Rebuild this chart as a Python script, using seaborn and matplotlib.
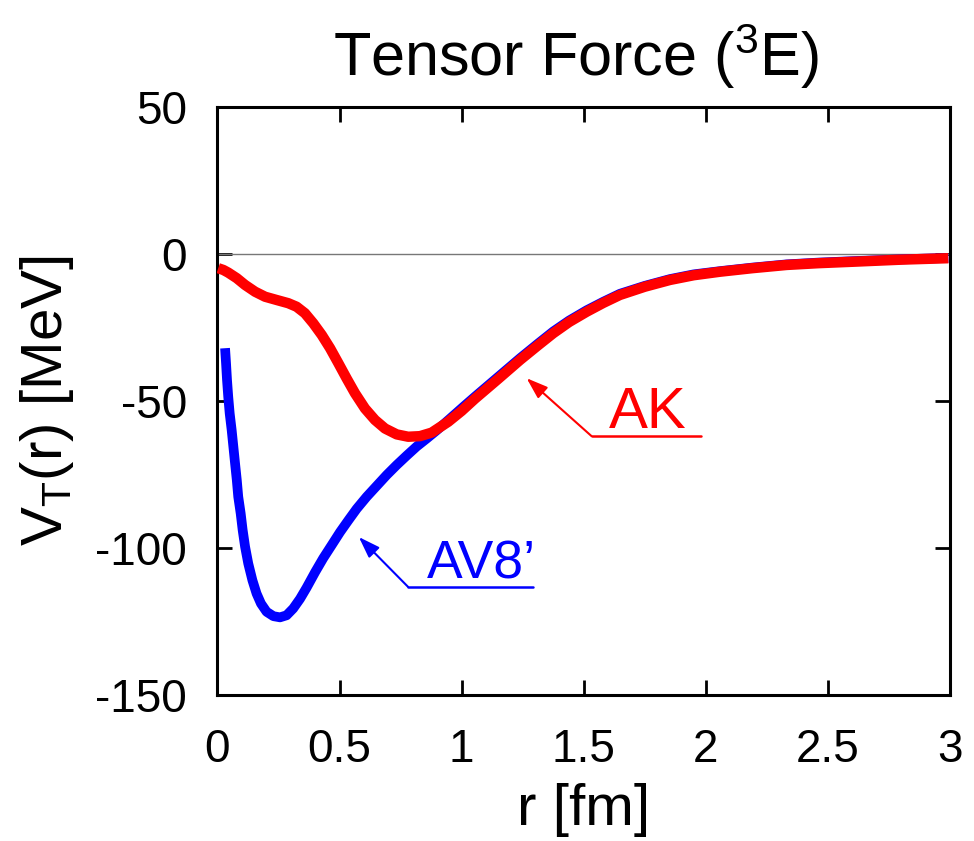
import numpy as np
import pandas as pd
import matplotlib
matplotlib.use("Agg")
import matplotlib.pyplot as plt
import seaborn as sns

# ---- data ----
r_av8 = [0.031, 0.035, 0.039, 0.044, 0.050, 0.058, 0.065, 0.072, 0.079, 0.085,
         0.095, 0.103, 0.113, 0.126, 0.143, 0.160, 0.178, 0.201, 0.229, 0.256,
         0.283, 0.310, 0.338, 0.365, 0.400, 0.433, 0.468, 0.502, 0.536, 0.570,
         0.611, 0.652, 0.693, 0.734, 0.775, 0.816, 0.857, 0.898, 0.950, 1.007,
         1.054, 1.150, 1.239, 1.310, 1.375, 1.440, 1.512, 1.580, 1.648, 1.750,
         1.853, 1.950, 2.058, 2.190, 2.331, 2.460, 2.604, 2.800, 2.993]
v_av8 = [-32.1, -37.2, -42.9, -48.6, -54.3, -59.9, -65.6, -71.3, -76.9, -82.6,
         -88.3, -93.9, -99.6, -105.3, -111.0, -115.5, -118.9, -121.7, -123.2, -123.6,
         -122.9, -120.6, -117.3, -113.5, -108.2, -103.5, -99.0, -94.6, -90.6, -86.7,
         -82.6, -78.9, -75.2, -71.8, -68.6, -65.5, -62.8, -60.0, -56.2, -52.0,
         -48.6, -41.8, -35.5, -30.7, -26.4, -22.7, -19.2, -16.3, -13.6, -10.9,
         -8.6, -7.0, -5.9, -4.7, -3.6, -3.0, -2.5, -1.9, -1.4]

r_ak = [0.003, 0.024, 0.044, 0.079, 0.113, 0.154, 0.195, 0.242, 0.290, 0.324,
        0.358, 0.392, 0.427, 0.461, 0.495, 0.529, 0.563, 0.604, 0.645, 0.686,
        0.734, 0.781, 0.829, 0.877, 0.945, 1.000, 1.054, 1.150, 1.239, 1.310,
        1.375, 1.440, 1.512, 1.580, 1.648, 1.750, 1.853, 1.950, 2.058, 2.190,
        2.331, 2.460, 2.604, 2.800, 2.993]
v_ak = [-4.9, -5.5, -6.4, -8.3, -10.6, -12.9, -14.6, -15.7, -16.8, -18.0,
        -20.2, -23.6, -27.6, -32.1, -37.2, -42.4, -47.4, -52.6, -56.5, -59.4,
        -61.4, -62.2, -62.0, -60.8, -57.1, -53.4, -49.3, -42.5, -36.1, -31.3,
        -27.0, -23.2, -19.7, -16.7, -14.0, -11.2, -8.9, -7.3, -6.1, -4.9,
        -3.8, -3.2, -2.7, -2.0, -1.5]

x_ticks = [0, 0.5, 1, 1.5, 2, 2.5, 3]
x_ticklabels = ["0", "0.5", "1", "1.5", "2", "2.5", "3"]
y_ticks = [-150, -100, -50, 0, 50]
y_ticklabels = ["-150", "-100", "-50", "0", "50"]

labels = ["AV8\u2019", "AK"]
colors = ["#0000ff", "#ff0000"]

df = pd.concat([
    pd.DataFrame({"r": r_av8, "V": v_av8, "model": labels[0]}),
    pd.DataFrame({"r": r_ak, "V": v_ak, "model": labels[1]}),
], ignore_index=True)

# ---- style ----
sns.set_theme(style="ticks")
plt.rcParams["font.family"] = ["Liberation Sans", "DejaVu Sans"]
plt.rcParams["mathtext.fontset"] = "custom"
plt.rcParams["mathtext.rm"] = "Liberation Sans"
plt.rcParams["mathtext.it"] = "Liberation Sans"
for key in ["text.color", "axes.labelcolor", "xtick.color", "ytick.color",
            "axes.edgecolor"]:
    plt.rcParams[key] = "black"

fig = plt.figure(figsize=(9.74, 8.41), dpi=100)
ax = fig.add_axes([0.2233, 0.1736, 0.7521, 0.6995])

ax.axhline(0, color="#777777", lw=1.0, zorder=1)

sns.lineplot(data=df[df.model == labels[0]], x="r", y="V", color=colors[0],
             linewidth=7.0, ax=ax, sort=False, zorder=3, legend=False)
sns.lineplot(data=df[df.model == labels[1]], x="r", y="V", color=colors[1],
             linewidth=7.5, ax=ax, sort=False, zorder=4, legend=False)
for ln in ax.lines[1:]:
    ln.set_solid_capstyle("butt")
    ln.set_solid_joinstyle("round")

ax.set_xlim(0, 3)
ax.set_ylim(-150, 50)
ax.set_xticks(x_ticks)
ax.set_xticklabels(x_ticklabels)
ax.set_yticks(y_ticks)
ax.set_yticklabels(y_ticklabels)
ax.tick_params(direction="in", length=11, width=2.0, labelsize=33,
               top=True, right=True, colors="black")
ax.tick_params(axis="x", pad=24)
ax.tick_params(axis="y", pad=22)
for s in ax.spines.values():
    s.set_linewidth(2.2)
    s.set_color("black")

ax.set_xlabel("r [fm]", fontsize=42, labelpad=8)
ax.set_ylabel(r"V$\mathregular{_T}$(r) [MeV]", fontsize=42, labelpad=14)
ax.set_title(r"Tensor Force ($\mathregular{^3}$E)", fontsize=44, pad=22, x=0.49)

# ---- annotations ----
arrow_kw = dict(arrowstyle="-|>,head_length=1.3,head_width=0.45",
                lw=1.5, shrinkA=0, shrinkB=0, mutation_scale=10)
# AK
ax.annotate("", xy=(1.266, -42.3), xytext=(1.532, -62.0),
            arrowprops=dict(color=colors[1], **arrow_kw), zorder=5)
ax.plot([1.532, 1.98], [-62.0, -62.0], color=colors[1], lw=1.8, zorder=5)
ax.text(1.762, -59.3, labels[1], color=colors[1], fontsize=42,
        ha="center", va="baseline")
# AV8'
ax.annotate("", xy=(0.579, -96.3), xytext=(0.780, -113.2),
            arrowprops=dict(color=colors[0], **arrow_kw), zorder=5)
ax.plot([0.780, 1.292], [-113.2, -113.2], color=colors[0], lw=1.8, zorder=5)
ax.text(1.083, -110.3, labels[0], color=colors[0], fontsize=38.5,
        ha="center", va="baseline")

fig.savefig("out.png", dpi=100)
